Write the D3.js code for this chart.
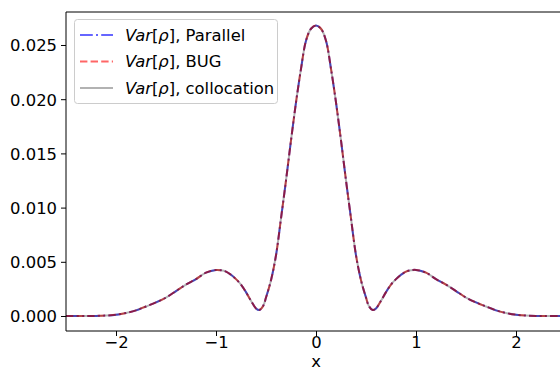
<!DOCTYPE html>
<html><head><meta charset="utf-8">
<script src="https://cdn.jsdelivr.net/npm/d3@7"></script>
<style>
html,body{margin:0;padding:0;background:#fff;}
svg{display:block;font-family:"DejaVu Sans",sans-serif;}
</style></head>
<body>
<svg id="chart" width="560" height="371"></svg>
<script>
// ---- data ----
const xValues = [-2.5,-2.3,-2.2,-2.1,-2.0,-1.9,-1.8,-1.7,-1.6,-1.5,-1.4,-1.3,-1.2,-1.1,-1.0,-0.95,-0.9,-0.85,-0.8,-0.75,-0.7,-0.65,-0.6,-0.567,-0.53,-0.5,-0.45,-0.4,-0.35,-0.3,-0.25,-0.2,-0.15,-0.1,-0.05,0,
  0.05,0.1,0.15,0.2,0.25,0.3,0.35,0.4,0.45,0.5,0.53,0.567,0.6,0.65,0.7,0.75,0.8,0.85,0.9,0.95,1.0,1.1,1.2,1.3,1.4,1.5,1.6,1.7,1.8,1.9,2.0,2.1,2.2,2.3,2.5];
const varParallel = [0,0.000005,0.00001,0.00004,0.00012,0.00028,0.00052,0.00088,0.00125,0.0017,0.0023,0.0029,0.0034,0.0040,0.00425,0.00422,0.0041,0.0038,0.0034,0.0029,0.0022,0.0014,0.0007,0.00055,0.0009,0.0017,0.0033,0.0056,0.0090,0.0125,0.0162,0.0197,0.0228,0.0254,0.0265,0.0268,
  0.0265,0.0254,0.0228,0.0197,0.0162,0.0125,0.0090,0.0056,0.0033,0.0017,0.0009,0.00055,0.0007,0.0014,0.0022,0.0029,0.0034,0.0038,0.0041,0.00422,0.00425,0.0040,0.0034,0.0029,0.0023,0.0017,0.00125,0.00088,0.00052,0.00028,0.00012,0.00004,0.00001,0.000005,0];
const varBUG = [0,0.000005,0.00001,0.00004,0.00012,0.00028,0.00052,0.00088,0.00125,0.0017,0.0023,0.0029,0.0034,0.0040,0.00425,0.00422,0.0041,0.0038,0.0034,0.0029,0.0022,0.0014,0.0007,0.00055,0.0009,0.0017,0.0033,0.0056,0.0090,0.0125,0.0162,0.0197,0.0228,0.0254,0.0265,0.0268,
  0.0265,0.0254,0.0228,0.0197,0.0162,0.0125,0.0090,0.0056,0.0033,0.0017,0.0009,0.00055,0.0007,0.0014,0.0022,0.0029,0.0034,0.0038,0.0041,0.00422,0.00425,0.0040,0.0034,0.0029,0.0023,0.0017,0.00125,0.00088,0.00052,0.00028,0.00012,0.00004,0.00001,0.000005,0];
const varCollocation = [0,0.000005,0.00001,0.00004,0.00012,0.00028,0.00052,0.00088,0.00125,0.0017,0.0023,0.0029,0.0034,0.0040,0.00425,0.00422,0.0041,0.0038,0.0034,0.0029,0.0022,0.0014,0.0007,0.00055,0.0009,0.0017,0.0033,0.0056,0.0090,0.0125,0.0162,0.0197,0.0228,0.0254,0.0265,0.0268,
  0.0265,0.0254,0.0228,0.0197,0.0162,0.0125,0.0090,0.0056,0.0033,0.0017,0.0009,0.00055,0.0007,0.0014,0.0022,0.0029,0.0034,0.0038,0.0041,0.00422,0.00425,0.0040,0.0034,0.0029,0.0023,0.0017,0.00125,0.00088,0.00052,0.00028,0.00012,0.00004,0.00001,0.000005,0];
const seriesNames = ["Parallel","BUG","collocation"];
const xTicks = [-2,-1,0,1,2];
const yTicks = [0,0.005,0.010,0.015,0.020,0.025];
const xLabel = "x";

// ---- layout ----
const svg = d3.select("#chart");
const L = 66, R = 566, T = 12, B = 331;
const FS = "16.4px";
const x = d3.scaleLinear().domain([-2.5, 2.5]).range([L, R]);
const y = d3.scaleLinear().domain([-0.001384, 0.028044]).range([B, T]);

const styles = [
  {color:"#0000ff", op:0.6, dash:"12.8,3.2,2,3.2"},
  {color:"#ff0000", op:0.6, dash:"7.4,3.2"},
  {color:"#000000", op:0.3, dash:null}
];
const seriesData = [varParallel, varBUG, varCollocation];

const line = d3.line().x(d => x(d[0])).y(d => y(d[1])).curve(d3.curveCatmullRom.alpha(0.5));
svg.append("clipPath").attr("id","clip").append("rect")
  .attr("x",L).attr("y",T).attr("width",R-L).attr("height",B-T);
const plot = svg.append("g").attr("clip-path","url(#clip)");
seriesData.forEach((vals,i) => {
  const pts = xValues.map((xv,j) => [xv, vals[j]]);
  plot.append("path").attr("d", line(pts))
    .attr("fill","none").attr("stroke",styles[i].color)
    .attr("stroke-opacity",styles[i].op).attr("stroke-width",2)
    .attr("stroke-dasharray",styles[i].dash);
});

// axes
const fmtY = d3.format(".3f");
const xAxis = d3.axisBottom(x).tickValues(xTicks).tickSize(5).tickPadding(4)
  .tickFormat(d => d3.format("d")(d).replace("-","\u2212"));
const yAxis = d3.axisLeft(y).tickValues(yTicks).tickSize(5).tickPadding(4).tickFormat(fmtY);
const gx = svg.append("g").attr("transform",`translate(0,${B})`).call(xAxis);
const gy = svg.append("g").attr("transform",`translate(${L},0)`).call(yAxis);
[gx,gy].forEach(g => {
  g.select(".domain").remove();
  g.selectAll("text").attr("font-size",FS).attr("fill","#000").attr("font-family","DejaVu Sans");
  g.selectAll("line").attr("stroke","#000").attr("stroke-width",1);
});
gy.selectAll("text").attr("dy","0.36em");
gx.selectAll("text").attr("dy","7.8px");

// spines
const sp = svg.append("g").attr("stroke","#000").attr("stroke-width",1).attr("fill","none");
sp.append("line").attr("x1",L).attr("x2",L).attr("y1",T).attr("y2",B);
sp.append("line").attr("x1",L).attr("x2",R).attr("y1",B).attr("y2",B);
sp.append("line").attr("x1",L).attr("x2",R).attr("y1",T).attr("y2",T);
sp.append("line").attr("x1",R).attr("x2",R).attr("y1",T).attr("y2",B);

svg.append("text").attr("x", x(0)).attr("y",367).attr("text-anchor","middle")
  .attr("font-size",FS).text(xLabel);

// legend
const lg = svg.append("g");
lg.append("rect").attr("x",74.5).attr("y",19.5).attr("width",203).attr("height",84).attr("rx",3)
  .attr("fill","#fff").attr("fill-opacity",0.8).attr("stroke","#cccccc");
seriesNames.forEach((n,i) => {
  const cy = 35 + i*26.5;
  lg.append("line").attr("x1",80).attr("x2",113).attr("y1",cy).attr("y2",cy)
    .attr("stroke",styles[i].color).attr("stroke-opacity",styles[i].op).attr("stroke-width",2)
    .attr("stroke-dasharray",styles[i].dash);
  const t = lg.append("text").attr("x",125).attr("y",cy).attr("dy","0.36em").attr("font-size",FS);
  t.append("tspan").attr("font-style","italic").text("Var");
  t.append("tspan").text("[");
  t.append("tspan").attr("font-style","italic").text("ρ");
  t.append("tspan").text("], " + n);
});
</script>
</body></html>
